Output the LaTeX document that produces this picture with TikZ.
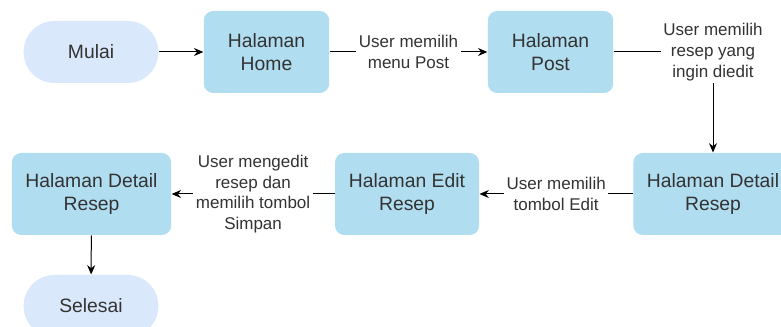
\documentclass[tikz,border=0pt]{standalone}
\usepackage{fontspec}
\setmainfont{Liberation Sans}
\usetikzlibrary{arrows.meta}
\definecolor{halamanblue}{HTML}{B1DDF0}
\definecolor{terminalblue}{HTML}{DAE8FC}
\definecolor{teksgray}{HTML}{333333}
\begin{document}
\begin{tikzpicture}[x=0.75pt, y=-0.75pt, line width=0.75pt,
    >={Stealth[length=7pt, width=6pt]},
    halaman/.style={fill=halamanblue, rounded corners=7pt, minimum height=61.5pt,
        text=teksgray, align=center, font=\fontsize{14.5}{17}\selectfont},
    terminal/.style={fill=terminalblue, rounded corners=23pt, minimum width=101pt,
        minimum height=46.5pt, text=teksgray, font=\fontsize{14.5}{17}\selectfont},
    ket/.style={fill=white, align=center, inner sep=2pt, text=teksgray,
        font=\fontsize{12.75}{15.5}\selectfont}]
    \useasboundingbox (0,0) rectangle (781,327);
    % Start and end
    \node[terminal] (mulai) at (91,52) {Mulai};
    \node[terminal] (selesai) at (91,306) {Selesai};
    % Pages, top row
    \node[halaman, minimum width=94pt] (home) at (266.5,52) {Halaman\\Home};
    \node[halaman, minimum width=94pt] (post) at (550.5,52) {Halaman\\Post};
    % Pages, bottom row
    \node[halaman, minimum width=119.5pt] (detailkanan) at (713,194) {Halaman Detail\\Resep};
    \node[halaman, minimum width=108pt] (edit) at (407,194) {Halaman Edit\\Resep};
    \node[halaman, minimum width=119.5pt] (detailkiri) at (91.5,194) {Halaman Detail\\Resep};
    % Flow
    \draw[->] (mulai) -- (home);
    \draw[->] (home) -- node[ket] {User memilih\\menu Post} (post);
    \draw[->] (post) -| node[ket] {User memilih\\resep yang\\ingin diedit} (detailkanan);
    \draw[->] (detailkanan) -- node[ket] {User memilih\\tombol Edit} (edit);
    \draw[->] (edit) -- node[ket] {User mengedit\\resep dan\\memilih tombol\\Simpan} (detailkiri);
    \draw[->] (detailkiri) -- (selesai);
\end{tikzpicture}
\end{document}
